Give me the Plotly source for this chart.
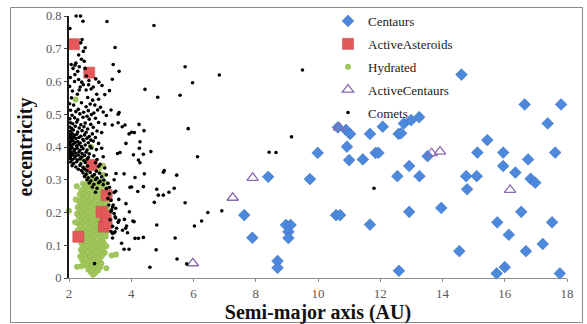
import plotly.graph_objects as go

# ---------------- data ----------------
centaurs = [
    [8.40, 0.309], [9.74, 0.302], [9.99, 0.382], [7.63, 0.192], [7.89, 0.123],
    [8.97, 0.162], [9.12, 0.162], [9.05, 0.141], [9.05, 0.122], [8.70, 0.052],
    [8.70, 0.031], [10.58, 0.192], [10.71, 0.192], [10.64, 0.460], [10.90, 0.452],
    [11.03, 0.440], [10.93, 0.401], [11.00, 0.360], [11.44, 0.362], [11.67, 0.440],
    [12.08, 0.462], [11.85, 0.382], [11.94, 0.382], [11.67, 0.163], [12.59, 0.440],
    [12.55, 0.311], [14.61, 0.621], [12.76, 0.472], [12.99, 0.482], [13.25, 0.491],
    [12.67, 0.442], [13.52, 0.372], [12.93, 0.342], [13.26, 0.311], [12.93, 0.202],
    [13.96, 0.214], [12.60, 0.022], [16.64, 0.530], [17.81, 0.530], [17.38, 0.472],
    [18.01, 0.460], [15.44, 0.421], [15.12, 0.383], [15.95, 0.383], [17.62, 0.383],
    [16.75, 0.362], [15.95, 0.342], [16.34, 0.322], [14.76, 0.311], [15.10, 0.311],
    [16.83, 0.303], [16.98, 0.291], [14.79, 0.271], [16.53, 0.202], [15.76, 0.170],
    [17.52, 0.170], [16.13, 0.132], [17.22, 0.104], [16.68, 0.082], [14.54, 0.082],
    [16.00, 0.033], [15.74, 0.014], [17.77, 0.014],
]

active_asteroids = [
    [2.16, 0.714], [2.65, 0.627], [2.73, 0.345], [3.21, 0.253], [3.05, 0.202],
    [3.18, 0.190], [3.12, 0.157], [3.21, 0.167], [2.30, 0.126],
]

hydrated = [
    [2.95, 0.332], [2.55, 0.312], [2.76, 0.308], [3.10, 0.315], [2.62, 0.298], [2.86, 0.302], [3.01, 0.296],
    [2.45, 0.288], [2.58, 0.285], [2.71, 0.292], [2.92, 0.287], [3.16, 0.290],
    [2.50, 0.276], [2.66, 0.279], [2.81, 0.272], [3.05, 0.281],
    [2.40, 0.268], [2.55, 0.266], [2.73, 0.263], [2.88, 0.270], [3.00, 0.265], [3.21, 0.272],
    [2.35, 0.256], [2.48, 0.258], [2.62, 0.252], [2.78, 0.260], [2.95, 0.254], [3.11, 0.257],
    [2.42, 0.245], [2.57, 0.247], [2.69, 0.242], [2.85, 0.249], [3.03, 0.244], [3.18, 0.248],
    [2.30, 0.236], [2.45, 0.238], [2.60, 0.233], [2.75, 0.240], [2.91, 0.235], [3.08, 0.232], [3.25, 0.238],
    [2.38, 0.226], [2.52, 0.229], [2.66, 0.224], [2.82, 0.228], [2.98, 0.222], [3.15, 0.226],
    [2.28, 0.216], [2.43, 0.218], [2.58, 0.213], [2.72, 0.219], [2.88, 0.214], [3.04, 0.217], [3.22, 0.212],
    [2.35, 0.206], [2.50, 0.208], [2.65, 0.203], [2.80, 0.209], [2.95, 0.204], [3.12, 0.207],
    [2.26, 0.196], [2.42, 0.198], [2.56, 0.193], [2.70, 0.199], [2.85, 0.194], [3.00, 0.197], [3.18, 0.192],
    [2.32, 0.186], [2.48, 0.188], [2.62, 0.183], [2.78, 0.189], [2.92, 0.184], [3.08, 0.187], [3.25, 0.182],
    [2.40, 0.176], [2.55, 0.178], [2.68, 0.173], [2.84, 0.179], [2.98, 0.174], [3.15, 0.177],
    [2.30, 0.166], [2.46, 0.168], [2.60, 0.163], [2.75, 0.169], [2.90, 0.164], [3.05, 0.167], [3.22, 0.162],
    [2.38, 0.156], [2.52, 0.158], [2.66, 0.153], [2.80, 0.159], [2.95, 0.154], [3.12, 0.157],
    [2.28, 0.146], [2.44, 0.148], [2.58, 0.143], [2.72, 0.149], [2.88, 0.144], [3.02, 0.147], [3.20, 0.142],
    [2.36, 0.136], [2.50, 0.138], [2.64, 0.133], [2.78, 0.139], [2.94, 0.134], [3.10, 0.137],
    [2.42, 0.126], [2.56, 0.128], [2.70, 0.123], [2.85, 0.129], [3.00, 0.124], [3.18, 0.127],
    [2.48, 0.116], [2.62, 0.118], [2.76, 0.113], [2.90, 0.119], [3.06, 0.114],
    [2.40, 0.106], [2.54, 0.108], [2.68, 0.103], [2.82, 0.109], [2.96, 0.104], [3.12, 0.107],
    [2.46, 0.096], [2.60, 0.098], [2.74, 0.093], [2.88, 0.099], [3.02, 0.094], [3.20, 0.097],
    [2.38, 0.086], [2.52, 0.088], [2.66, 0.083], [2.80, 0.089], [2.94, 0.084], [3.08, 0.087],
    [2.44, 0.076], [2.58, 0.078], [2.72, 0.073], [2.86, 0.079], [3.00, 0.074], [3.15, 0.077],
    [2.36, 0.066], [2.50, 0.068], [2.64, 0.063], [2.78, 0.069], [2.92, 0.064], [3.06, 0.067], [3.37, 0.069], [3.51, 0.072],
    [2.42, 0.056], [2.56, 0.058], [2.70, 0.053], [2.84, 0.059], [2.98, 0.054],
    [2.48, 0.046], [2.62, 0.048], [2.76, 0.043], [2.90, 0.049], [3.04, 0.044],
    [2.40, 0.036], [2.56, 0.038], [2.70, 0.033], [2.86, 0.039], [3.00, 0.034],
    [2.26, 0.034], [2.62, 0.026], [2.78, 0.028], [2.94, 0.024], [3.20, 0.030],
    [2.70, 0.018], [2.85, 0.016], [2.77, 0.010],
    [2.00, 0.205], [2.21, 0.545], [2.71, 0.400], [3.09, 0.343], [2.30, 0.125], [2.22, 0.240],
    [2.20, 0.170], [2.25, 0.280], [2.39, 0.364], [2.55, 0.335], [2.64, 0.350],
]

active_centaurs = [
    [5.98, 0.045], [7.26, 0.245], [7.90, 0.306], [10.68, 0.459],
    [13.65, 0.381], [13.92, 0.386], [16.17, 0.269],
]

comets = [
    # upper band near the inner edge
    [2.03, 0.762], [2.23, 0.800], [2.37, 0.800], [2.45, 0.784], [2.42, 0.728], [2.38, 0.718],
    [2.46, 0.692], [2.31, 0.681], [2.52, 0.703], [2.40, 0.668], [2.07, 0.652], [2.22, 0.656],
    [2.13, 0.640], [2.33, 0.645], [2.49, 0.662], [2.28, 0.631], [2.04, 0.612], [2.19, 0.621],
    [2.31, 0.606], [2.41, 0.598], [2.56, 0.617], [2.63, 0.590], [2.86, 0.608], [2.96, 0.598],
    [3.06, 0.588], [2.71, 0.577], [2.78, 0.583], [2.89, 0.561], [2.95, 0.546], [2.55, 0.574],
    [2.46, 0.590], [2.36, 0.583], [2.27, 0.561], [2.11, 0.571], [2.60, 0.551], [2.76, 0.543],
    [2.83, 0.528], [3.01, 0.521], [2.64, 0.603], [2.52, 0.640], [2.33, 0.574], [2.02, 0.585],
    [2.08, 0.550], [2.18, 0.600], [2.19, 0.650],
    # scattered middle / outer
    [3.22, 0.783], [3.48, 0.704], [3.42, 0.652], [3.61, 0.631], [3.39, 0.607], [3.30, 0.572],
    [3.15, 0.560], [3.35, 0.513], [3.61, 0.505], [3.58, 0.500], [4.73, 0.771], [5.73, 0.645],
    [6.83, 0.620], [5.97, 0.596], [4.44, 0.576], [4.85, 0.552], [5.57, 0.558], [5.83, 0.456],
    [6.13, 0.370], [4.63, 0.386], [9.50, 0.635], [9.15, 0.431], [8.43, 0.384], [8.65, 0.383],
    [11.80, 0.274],
    [3.39, 0.467], [3.58, 0.474], [3.71, 0.462], [3.80, 0.467], [3.93, 0.440], [4.01, 0.445],
    [4.10, 0.444], [4.25, 0.469], [4.41, 0.450], [3.83, 0.411], [4.28, 0.416], [4.26, 0.396],
    [3.64, 0.383], [4.07, 0.376], [4.39, 0.378], [4.23, 0.360], [4.28, 0.352], [3.77, 0.318],
    [4.12, 0.307], [4.42, 0.318], [5.03, 0.323], [5.06, 0.328], [5.46, 0.314], [3.96, 0.277],
    [4.01, 0.278], [4.21, 0.264], [4.39, 0.279], [4.82, 0.271], [4.87, 0.253], [5.03, 0.253],
    [5.21, 0.262], [5.38, 0.274], [4.74, 0.231], [5.73, 0.230], [6.91, 0.205], [6.46, 0.200],
    [6.26, 0.174], [6.03, 0.159], [4.82, 0.162], [3.94, 0.202], [4.05, 0.174], [4.09, 0.172],
    [3.78, 0.179], [3.58, 0.170], [3.85, 0.159], [3.82, 0.152], [3.88, 0.138], [4.12, 0.121],
    [4.23, 0.121], [4.39, 0.124], [3.69, 0.106], [5.41, 0.122], [3.77, 0.088], [3.93, 0.088],
    [4.80, 0.086], [5.47, 0.058], [5.78, 0.043], [4.60, 0.033], [3.53, 0.152], [3.48, 0.141],
    [3.40, 0.136], [3.51, 0.319], [3.61, 0.176], [3.72, 0.146], [3.83, 0.227], [3.56, 0.380],
    [3.45, 0.300], [3.50, 0.265], [3.60, 0.240], [3.48, 0.187], [3.37, 0.208], [3.50, 0.213],
    [3.42, 0.223],
    # dense inner cluster
    [2.02, 0.532], [2.15, 0.528], [2.40, 0.535], [2.55, 0.523], [2.68, 0.531],
    [2.05, 0.512], [2.22, 0.508], [2.30, 0.515], [2.47, 0.506], [2.62, 0.511], [2.80, 0.504], [2.92, 0.513], [3.10, 0.507],
    [2.10, 0.497], [2.35, 0.501], [2.58, 0.494], [2.72, 0.499], [3.20, 0.496],
    [2.03, 0.486], [2.18, 0.489], [2.28, 0.483], [2.45, 0.491], [2.65, 0.485], [2.85, 0.488],
    [2.05, 0.474], [2.12, 0.471], [2.25, 0.476], [2.38, 0.468], [2.52, 0.473], [2.70, 0.469], [2.95, 0.475], [3.15, 0.470],
    [2.02, 0.461], [2.08, 0.457], [2.20, 0.463], [2.33, 0.458], [2.48, 0.462], [2.60, 0.455], [2.78, 0.460],
    [2.04, 0.448], [2.14, 0.452], [2.28, 0.446], [2.42, 0.450], [2.55, 0.445], [2.90, 0.449], [3.05, 0.444],
    [2.01, 0.438], [2.06, 0.435], [2.10, 0.441], [2.18, 0.436], [2.25, 0.439], [2.38, 0.433], [2.50, 0.437], [2.65, 0.432], [2.75, 0.440],
    [2.03, 0.428], [2.09, 0.425], [2.15, 0.431], [2.22, 0.426], [2.32, 0.429], [2.45, 0.423], [2.58, 0.427], [2.70, 0.421], [2.85, 0.429],
    [2.01, 0.418], [2.05, 0.415], [2.12, 0.420], [2.20, 0.414], [2.28, 0.417], [2.36, 0.412], [2.48, 0.419], [2.62, 0.413], [2.78, 0.418], [2.95, 0.411],
    [2.02, 0.408], [2.07, 0.404], [2.14, 0.409], [2.24, 0.403], [2.30, 0.407], [2.40, 0.401], [2.52, 0.406], [2.68, 0.402],
    [2.01, 0.397], [2.05, 0.393], [2.10, 0.398], [2.18, 0.392], [2.26, 0.396], [2.35, 0.390], [2.45, 0.395], [2.58, 0.391], [2.72, 0.397], [2.88, 0.392], [3.05, 0.396],
    [2.03, 0.386], [2.08, 0.382], [2.16, 0.387], [2.22, 0.381], [2.32, 0.385], [2.42, 0.380], [2.55, 0.384], [2.65, 0.379],
    [2.02, 0.376], [2.06, 0.372], [2.12, 0.377], [2.20, 0.371], [2.30, 0.375], [2.40, 0.369], [2.50, 0.374], [2.62, 0.368], [2.80, 0.373], [3.10, 0.370],
    [2.04, 0.365], [2.10, 0.361], [2.18, 0.366], [2.27, 0.360], [2.36, 0.364], [2.48, 0.359], [2.58, 0.363], [2.90, 0.362],
    [2.05, 0.354], [2.15, 0.350], [2.25, 0.355], [2.38, 0.349], [2.52, 0.353], [2.85, 0.352], [3.00, 0.347],
    [2.10, 0.343], [2.22, 0.339], [2.35, 0.344], [2.45, 0.338], [2.60, 0.342], [2.95, 0.341], [3.15, 0.336],
    [2.30, 0.332], [2.40, 0.328], [2.50, 0.333], [2.58, 0.327], [2.88, 0.326],
    [2.45, 0.321], [2.55, 0.317], [2.68, 0.322], [2.82, 0.316], [2.98, 0.320], [3.20, 0.315],
    [2.50, 0.310], [2.62, 0.306], [2.75, 0.311], [2.90, 0.305], [3.05, 0.309],
    [2.58, 0.300], [2.70, 0.296], [2.85, 0.301], [3.00, 0.295], [3.12, 0.299],
    [2.65, 0.290], [2.80, 0.286], [2.95, 0.291], [3.10, 0.285], [3.25, 0.289],
    [2.75, 0.278], [2.90, 0.274], [3.20, 0.273], [3.30, 0.277],
    [2.85, 0.262], [3.30, 0.257], [3.45, 0.261],
    [3.25, 0.243], [3.35, 0.237],
    [3.28, 0.223], [3.40, 0.217],
    [3.35, 0.203], [3.45, 0.197],
    [3.32, 0.178], [3.50, 0.183],
    [3.40, 0.158], [3.35, 0.142], [3.45, 0.138], [3.40, 0.122],
    [2.82, 0.044],
]

x_ticks = [2, 4, 6, 8, 10, 12, 14, 16, 18]
y_ticks = [0, 0.1, 0.2, 0.3, 0.4, 0.5, 0.6, 0.7, 0.8]
y_tick_text = ["0", "0.1", "0.2", "0.3", "0.4", "0.5", "0.6", "0.7", "0.8"]


def xs(pts):
    return [p[0] for p in pts]


def ys(pts):
    return [p[1] for p in pts]


FONT = "Liberation Serif"

fig = go.Figure()
fig.add_trace(go.Scatter(
    x=xs(centaurs), y=ys(centaurs), mode="markers", name="Centaurs", legendgroup="a", legendrank=1,
    marker=dict(symbol="diamond", size=9, color="#4C89DC", line=dict(color="#3A72C4", width=0.6)),
))
fig.add_trace(go.Scatter(
    x=xs(hydrated), y=ys(hydrated), mode="markers", name="Hydrated", legendgroup="c", legendrank=3,
    marker=dict(symbol="circle", size=5.5, color="#A3C75E", line=dict(color="#8DB446", width=0.5)),
))
fig.add_trace(go.Scatter(
    x=xs(active_asteroids), y=ys(active_asteroids), mode="markers", name="ActiveAsteroids", legendgroup="b", legendrank=2,
    marker=dict(symbol="square", size=11, color="#E45A5B", line=dict(color="#C9494A", width=0.6)),
))
fig.add_trace(go.Scatter(
    x=xs(active_centaurs), y=ys(active_centaurs), mode="markers", name="ActiveCentaurs", legendgroup="d", legendrank=4,
    marker=dict(symbol="triangle-up-open", size=10, color="#8A6BB0", line=dict(color="#8A6BB0", width=1.3)),
))
fig.add_trace(go.Scatter(
    x=xs(comets), y=ys(comets), mode="markers", name="Comets", legendgroup="e", legendrank=5,
    marker=dict(symbol="circle", size=3.6, color="#000000"),
))
fig.update_traces(cliponaxis=False)

W, H = 587, 324
L, R, T, B = 69, 20, 16, 46
pw, ph = W - L - R, H - T - B


def px(xp):
    return (xp - L) / pw


def py(yp):
    return (H - B - yp) / ph


fig.update_layout(
    width=W, height=H,
    margin=dict(l=L, r=R, t=T, b=B, autoexpand=False),
    paper_bgcolor="white", plot_bgcolor="white",
    font=dict(family=FONT, size=12, color="#404040"),
    showlegend=True,
    legend=dict(
        x=px(328), y=py(6), xanchor="left", yanchor="top",
        bgcolor="rgba(0,0,0,0)", borderwidth=0,
        font=dict(family=FONT, size=13, color="#1a1a1a"),
        tracegroupgap=3, itemsizing="trace", traceorder="grouped",
    ),
    xaxis=dict(
        range=[2, 18], tickvals=x_ticks, showgrid=False, zeroline=False, automargin=False,
        showline=True, linecolor="#8c8c8c", linewidth=1,
        ticks="outside", ticklen=3, tickcolor="#8c8c8c",
        tickfont=dict(family=FONT, size=13, color="#595959"),
        title=dict(text="<b>Semi-major axis (AU)</b>", font=dict(family=FONT, size=20, color="#111111"), standoff=4),
    ),
    yaxis=dict(
        range=[0, 0.8], tickvals=y_ticks, ticktext=y_tick_text, showgrid=False, zeroline=False, automargin=False,
        showline=True, linecolor="#1a1a1a", linewidth=2,
        ticks="outside", ticklen=3, tickcolor="#444444",
        tickfont=dict(family=FONT, size=12.5, color="#595959"),
        title=dict(text="<b>eccentricity</b>", font=dict(family=FONT, size=20, color="#111111"), standoff=8),
    ),
    shapes=[dict(
        type="rect", xref="paper", yref="paper",
        x0=px(10.5), x1=px(582.5), y0=py(322.5), y1=py(7.5),
        line=dict(color="#8a8a8a", width=1), fillcolor="rgba(0,0,0,0)", layer="below",
    )],
)

fig.write_html("out.html")
